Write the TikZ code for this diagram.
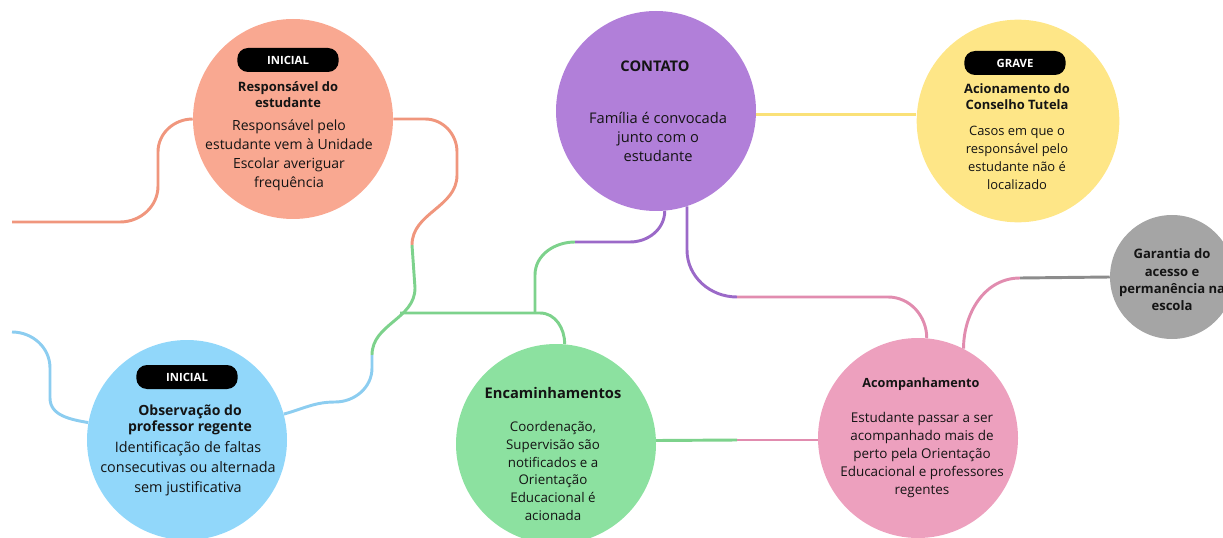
\documentclass[tikz,border=0pt]{standalone}
\usepackage{fontspec}
\setmainfont{Open Sans}
\usetikzlibrary{positioning}
\definecolor{ink}{RGB}{20,20,20}
\definecolor{salmon}{RGB}{249,168,145}
\definecolor{salmonline}{RGB}{240,150,125}
\definecolor{lilac}{RGB}{177,127,217}
\definecolor{lilacline}{RGB}{155,105,200}
\definecolor{sun}{RGB}{254,230,135}
\definecolor{sunline}{RGB}{250,225,120}
\definecolor{sky}{RGB}{145,215,250}
\definecolor{skyline}{RGB}{140,205,240}
\definecolor{mint}{RGB}{140,225,160}
\definecolor{mintline}{RGB}{125,210,140}
\definecolor{rose}{RGB}{237,160,190}
\definecolor{roseline}{RGB}{225,140,175}
\definecolor{ash}{RGB}{165,165,165}
\definecolor{ashline}{RGB}{140,140,140}
\tikzset{bubble/.style={circle, minimum size=150pt, inner sep=0pt, fill=#1}}
\tikzset{pill/.style={rounded corners=8pt, fill=black, text=white, minimum width=76pt, minimum height=18pt, inner sep=0pt, font=\bfseries\fontsize{8.5}{9}\selectfont}}
\tikzset{wire/.style={draw=#1, line width=2.2pt}}
\tikzset{head/.style={align=center, text=ink, font=\bfseries\fontsize{9.7}{12}\selectfont}}
\tikzset{body/.style={align=center, text=ink, font=\fontsize{10.5}{14.3}\selectfont}}

\begin{document}
\begin{tikzpicture}[x=0.75pt, y=-0.75pt]
	\useasboundingbox (0,0) rectangle (1223,538);
	\clip (0,0) rectangle (1223,538);
	
	% circles
	\node[bubble=salmon] (resp) at (293,119){};
	\node[bubble=lilac] (con) at (656,111){};
	\node[bubble=sun, minimum size=152pt] (grv) at (1018,121){};
	\node[bubble=sky] (obs) at (187,440){};
	\node[bubble=mint] (enc) at (556,444){};
	\node[bubble=rose] (aco) at (918,438){};
	\node[bubble=ash, minimum size=93pt] (gar) at (1172,277){};
	
	% texts
	\node[pill] (respp) at (288,60){INICIAL};
	\node[head] (resph) at (288,95){Responsável do\\estudante};
	\node[body] (respb) at (289,155){Responsável pelo\\estudante vem à Unidade\\Escolar averiguar\\frequência};
	
	\node[head, font=\bfseries\fontsize{11}{12}\selectfont] (conh) at (655,66){CONTATO};
	\node[body, font=\fontsize{11}{14.5}\selectfont] (conb) at (658,137){Família é convocada\\junto com o\\estudante};
	
	\node[pill] (grvp) at (1015,63){GRAVE};
	\node[head] (grvh) at (1017,97){Acionamento do\\Conselho Tutela};
	\node[body, font=\fontsize{9.7}{13.5}\selectfont] (grvb) at (1017,158){Casos em que o\\responsável pelo\\estudante não é\\localizado};
	
	\node[pill] (obsp) at (187,377){INICIAL};
	\node[head, font=\bfseries\fontsize{10.5}{12.5}\selectfont] (obsh) at (190,420){Observação do\\professor regente};
	\node[body, font=\fontsize{10.8}{15}\selectfont] (obsb) at (188,469){Identificação de faltas\\consecutivas ou alternada\\sem justificativa};
	
	\node[head, font=\bfseries\fontsize{11}{13}\selectfont] (ench) at (553,393){Encaminhamentos};
	\node[body, font=\fontsize{10}{13.3}\selectfont] (encb) at (553,471){Coordenação,\\Supervisão são\\notificados e a\\Orientação\\Educacional é\\acionada};
	
	\node[head, font=\bfseries\fontsize{9.5}{12}\selectfont] (acoh) at (921,384){Acompanhamento};
	\node[body, font=\fontsize{10.1}{13.5}\selectfont] (acob) at (922,455){Estudante passar a ser\\acompanhado mais de\\perto pela Orientação\\Educacional e professores\\regentes};
	
	\node[head, font=\bfseries\fontsize{9.8}{13}\selectfont] (garh) at (1172,280){Garantia do\\acesso e\\permanência na\\escola};
	
	% connectors
	\coordinate (oL) at (12,222);
	\coordinate (oR) at (412,245);
	\coordinate (gB) at (372,355);
	\coordinate (jn) at (400,313);
	\coordinate (jm) at (535,313);
	\coordinate (pA) at (575,242);
	\coordinate (pB) at (737,297);
	\coordinate (pC) at (1020,278);
	\coordinate (gp) at (737,440);
	\coordinate (bL) at (12,332);
	
	\draw[wire=salmonline] (oL) -- (120,222) to[out=0,in=-90] (158,186) -- (158,152) to[out=90,in=180] (resp.west);
	\draw[wire=salmonline] (resp.east) -- (425,119) to[out=0,in=90] (457,152) -- (457,175) to[out=-90,in=90] (oR);
	\draw[wire=mintline] (oR) -- (415,288) to[out=-90,in=90] (gB);
	\draw[wire=skyline] (gB) -- (372,368) to[out=-90,in=0] (335,402) to[out=180,in=15] (obs.15);
	\draw[wire=mintline] (jn) -- (540,313) to[out=0,in=90] (enc.85);
	\draw[wire=mintline] (jm) -- (535,275) to[out=90,in=180] (pA);
	\draw[wire=lilacline] (pA) -- (630,242) to[out=0,in=-90] (con.-85);
	\draw[wire=lilacline] (con.-72) -- (687,250) to[out=-90,in=180] (pB);
	\draw[wire=roseline] (pB) -- (888,297) to[out=0,in=90] (aco.85);
	\draw[wire=roseline] (aco.63) to[out=90,in=180] (pC);
	\draw[wire=ashline] (pC) -- (gar.west);
	\draw[wire=sunline] (con.-2) -- (con.-2 -| grv.west);
	\draw[wire=mintline] (enc.2) -- (gp);
	\draw[wire=roseline] (gp) -- (gp -| aco.west);
	\draw[wire=skyline] (bL) to[out=0,in=90] (50,368) -- (50,398) to[out=-90,in=170] (obs.170);
\end{tikzpicture}
\end{document}
